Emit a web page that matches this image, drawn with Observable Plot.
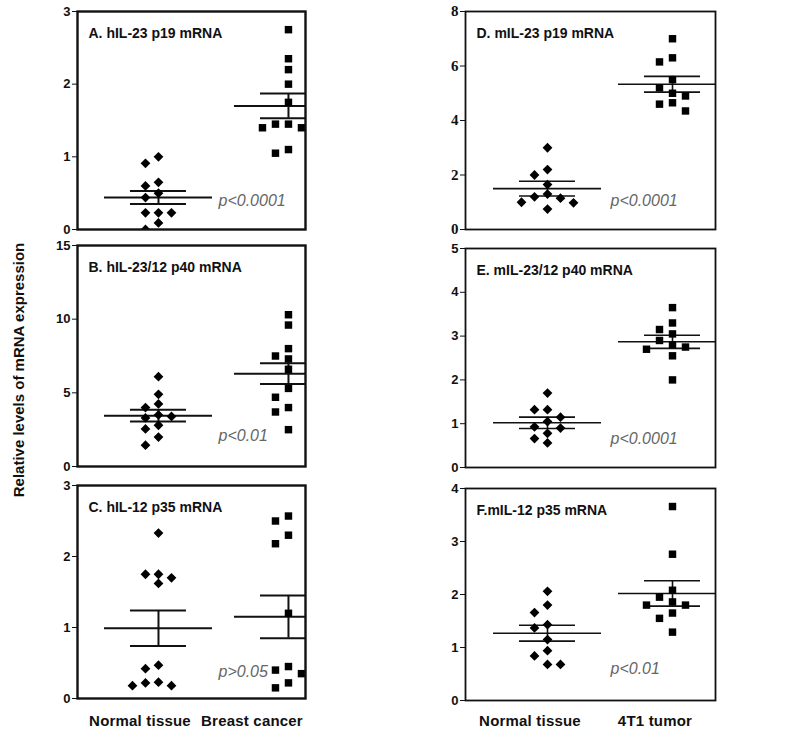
<!DOCTYPE html>
<html><head><meta charset="utf-8">
<script src="https://cdn.jsdelivr.net/npm/d3@7"></script>
<script src="https://cdn.jsdelivr.net/npm/@observablehq/plot@0.6"></script>
<style>
body{margin:0;background:#fff;}
#root{position:relative;width:800px;height:741px;font-family:"Liberation Sans",Arial,sans-serif;overflow:hidden;}
.panel{position:absolute;}
.xl{position:absolute;font-weight:bold;font-size:15px;color:#111;transform:translateX(-50%);white-space:nowrap;letter-spacing:0.2px;}
.yt{position:absolute;font-weight:bold;font-size:15px;color:#111;white-space:nowrap;transform:translate(-50%,-50%) rotate(-90deg);}
</style></head><body><div id="root"></div>
<script>
// ---- data ----
const groupsLeft = ["Normal tissue", "Breast cancer"];
const groupsRight = ["Normal tissue", "4T1 tumor"];
const yAxisTitle = "Relative levels of mRNA expression";

const titles = ["A. hIL-23 p19 mRNA", "B. hIL-23/12 p40 mRNA", "C. hIL-12 p35 mRNA",
                "D. mIL-23 p19 mRNA", "E. mIL-23/12 p40 mRNA", "F.mIL-12 p35 mRNA"];
const pValues = ["p<0.0001", "p<0.01", "p>0.05", "p<0.0001", "p<0.0001", "p<0.01"];
const yMax = [3, 15, 3, 8, 5, 4];
const yTicks = [[0,1,2,3], [0,5,10,15], [0,1,2,3], [0,2,4,6,8], [0,1,2,3,4,5], [0,1,2,3,4]];

// normal tissue values (diamonds)
const normalA = [1.0, 0.91, 0.65, 0.6, 0.5, 0.44, 0.23, 0.23, 0.23, 0.09, 0.0];
const normalB = [6.1, 4.9, 4.25, 4.0, 3.5, 3.4, 3.3, 2.8, 2.55, 2.0, 1.45];
const normalC = [2.33, 1.75, 1.75, 1.7, 1.62, 0.47, 0.42, 0.23, 0.18, 0.18, 0.22];
const normalD = [3.0, 2.2, 2.0, 1.65, 1.3, 1.2, 1.15, 1.0, 0.98, 0.75];
const normalE = [1.7, 1.32, 1.32, 1.15, 1.05, 0.93, 0.9, 0.78, 0.66, 0.56];
const normalF = [2.06, 1.8, 1.66, 1.43, 1.37, 1.15, 0.94, 0.84, 0.68, 0.68];
// tumor values (squares)
const tumorA = [2.75, 2.35, 2.2, 2.0, 1.75, 1.45, 1.45, 1.4, 1.4, 1.1, 1.05];
const tumorB = [10.3, 9.6, 8.0, 7.5, 7.3, 6.6, 5.3, 4.7, 4.0, 3.7, 2.5];
const tumorC = [2.57, 2.5, 2.3, 2.18, 1.2, 0.45, 0.4, 0.35, 0.22, 0.15];
const tumorD = [7.0, 6.3, 6.15, 5.5, 5.2, 5.0, 4.9, 4.65, 4.6, 4.35];
const tumorE = [3.65, 3.3, 3.15, 3.05, 2.9, 2.8, 2.75, 2.7, 2.55, 2.0];
const tumorF = [3.66, 2.76, 2.08, 1.95, 1.86, 1.8, 1.8, 1.65, 1.55, 1.29];

// mean and SEM: [normal, tumor]
const meanA = [0.44, 1.70], semA = [0.09, 0.17];
const meanB = [3.45, 6.30], semB = [0.40, 0.70];
const meanC = [0.99, 1.15], semC = [0.25, 0.30];
const meanD = [1.50, 5.33], semD = [0.27, 0.29];
const meanE = [1.02, 2.87], semE = [0.13, 0.15];
const meanF = [1.27, 2.02], semF = [0.15, 0.24];

// ---- layout (styles only) ----
const root = document.getElementById("root");
const sides = {
  L: {left: 40, width: 270, ml: 37, mr: 5, dom: [-0.623, 1.131], pdx: 141, sw: 2, fw: 2.4},
  R: {left: 428, width: 292, ml: 37, mr: 5, dom: [-0.656, 1.344], pdx: 145, sw: 1.6, fw: 1.8}
};
const panels = [
  {side: "L", top: 0,   fTop: 11,  fBot: 229, normal: normalA, tumor: tumorA, mean: meanA, sem: semA, pdy: -24},
  {side: "L", top: 235, fTop: 245, fBot: 466, normal: normalB, tumor: tumorB, mean: meanB, sem: semB, pdy: -26},
  {side: "L", top: 475, fTop: 485, fBot: 698, normal: normalC, tumor: tumorC, mean: meanC, sem: semC, pdy: -22},
  {side: "R", top: 0,   fTop: 11,  fBot: 229, normal: normalD, tumor: tumorD, mean: meanD, sem: semD, pdy: -24, serif: true},
  {side: "R", top: 238, fTop: 248, fBot: 467, normal: normalE, tumor: tumorE, mean: meanE, sem: semE, pdy: -24},
  {side: "R", top: 478, fTop: 488, fBot: 700, normal: normalF, tumor: tumorF, mean: meanF, sem: semF, pdy: -27}
];

panels.forEach((p, i) => {
  const S = sides[p.side];
  const marginTop = p.fTop - p.top;
  const plotH = p.fBot - p.fTop;
  const height = plotH + marginTop + 10;
  const pxPerUnit = plotH / yMax[i];
  const pxPerX = (S.width - S.ml - S.mr) / (S.dom[1] - S.dom[0]);
  const colStep = 13 / pxPerX;

  function layout(values, g) {
    const placed = [];
    const sorted = values.slice().sort((a, b) => b - a);
    for (const v of sorted) {
      for (const c of [0, -1, 1, -2, 2, -3, 3]) {
        if (placed.every(q => q.c !== c || Math.abs(q.v - v) * pxPerUnit >= 9)) {
          placed.push({v, c}); break;
        }
      }
    }
    return placed.map(q => ({x: g + q.c * colStep, y: q.v}));
  }
  const nPts = layout(p.normal, 0);
  const tPts = layout(p.tumor, 1);
  const stats = [0, 1].map(g => ({g, m: p.mean[g], s: p.sem[g]}));
  const hwMean = 54 / pxPerX, hwSem = 28 / pxPerX;
  const line = {stroke: "#111", strokeWidth: S.sw, clip: true};

  const chart = Plot.plot({
    width: S.width, height,
    marginLeft: S.ml, marginRight: S.mr, marginTop, marginBottom: 10,
    style: {fontFamily: p.serif ? "'Liberation Serif', serif" : "'Liberation Sans', Arial, sans-serif",
            fontSize: p.serif ? "15px" : "13px", fontWeight: "bold", color: "#111", background: "transparent"},
    x: {domain: S.dom, axis: null},
    y: {domain: [0, yMax[i]], ticks: yTicks[i], tickFormat: d => String(d)},
    marks: [
      Plot.axisY({ticks: yTicks[i], tickSize: 5, tickPadding: 2, tickFormat: d => String(d)}),
      Plot.ruleY(stats, {y: "m", x1: d => d.g - hwMean, x2: d => d.g + hwMean, ...line}),
      Plot.ruleY(stats, {y: d => d.m + d.s, x1: d => d.g - hwSem, x2: d => d.g + hwSem, ...line}),
      Plot.ruleY(stats, {y: d => d.m - d.s, x1: d => d.g - hwSem, x2: d => d.g + hwSem, ...line}),
      Plot.ruleX(stats, {x: "g", y1: d => d.m - d.s, y2: d => d.m + d.s, ...line}),
      Plot.dot(nPts, {x: "x", y: "y", symbol: "diamond2", r: 4.4, fill: "#000", stroke: "none", clip: true}),
      Plot.dot(tPts, {x: "x", y: "y", symbol: "square", r: 4.2, fill: "#000", stroke: "none", clip: true}),
      Plot.text([titles[i]], {frameAnchor: "top-left", dx: 11, dy: 17, text: d => d, textAnchor: "start",
        fontSize: 14, fontWeight: "bold", fontFamily: "'Liberation Sans', Arial, sans-serif", fill: "#111"}),
      Plot.text([pValues[i]], {frameAnchor: "bottom-left", dx: S.pdx, dy: p.pdy, text: d => d, textAnchor: "start",
        fontSize: 16, fontStyle: "italic", fontWeight: "normal", fontFamily: "'Liberation Sans', Arial, sans-serif", fill: "#666"}),
      Plot.frame({stroke: "#111", strokeWidth: S.fw})
    ]
  });
  chart.classList.add("panel");
  chart.style.left = S.left + "px";
  chart.style.top = p.top + "px";
  root.appendChild(chart);
});

// x labels
[[groupsLeft, [140, 252]], [groupsRight, [530, 655]]].forEach(([groups, xs]) => {
  groups.forEach((g, k) => {
    const d = document.createElement("div");
    d.className = "xl"; d.textContent = g;
    d.style.left = xs[k] + "px"; d.style.top = "712px";
    root.appendChild(d);
  });
});
const yt = document.createElement("div");
yt.className = "yt"; yt.textContent = yAxisTitle;
yt.style.left = "18px"; yt.style.top = "370px";
root.appendChild(yt);
</script></body></html>
